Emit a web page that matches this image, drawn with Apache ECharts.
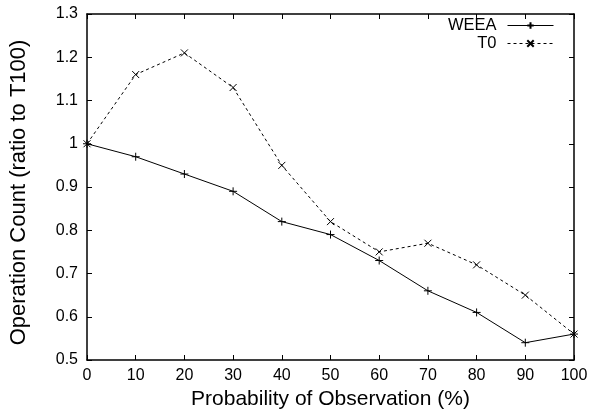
<!DOCTYPE html>
<html>
<head>
<meta charset="utf-8">
<script src="https://cdn.jsdelivr.net/npm/echarts@6/dist/echarts.min.js"></script>
<style>
  html, body { margin: 0; padding: 0; background: #fff; }
  #chart { width: 594px; height: 420px; }
</style>
</head>
<body>
<div id="chart"></div>
<script>
// Probability of observation (%)
const probs = [0, 10, 20, 30, 40, 50, 60, 70, 80, 90, 100];
// Operation count relative to T100
const weea = [1.00, 0.97, 0.93, 0.89, 0.82, 0.79, 0.73, 0.66, 0.61, 0.54, 0.56];
const t0   = [1.00, 1.16, 1.21, 1.13, 0.95, 0.82, 0.75, 0.77, 0.72, 0.65, 0.56];

const seriesNames = ['WEEA', 'T0'];

const FONT = '"Liberation Sans", Arial, Helvetica, sans-serif';
const PLUS = 'path://M0,5L10,5M5,0L5,10';
const CROSS = 'path://M0,0L10,10M10,0L0,10';

function pairs(ys) {
  return probs.map((x, i) => [x, ys[i]]);
}

const frameLine = { show: true, onZero: false, lineStyle: { color: '#000', width: 1.5 } };
const innerTick = { show: true, inside: true, length: 5, lineStyle: { color: '#000', width: 1 } };

const chart = echarts.init(document.getElementById('chart'), null, { renderer: 'canvas' });
chart.setOption({
  animation: false,
  backgroundColor: '#fff',
  textStyle: { fontFamily: FONT },
  grid: { left: 86, right: 20, top: 14, bottom: 60 },
  legend: {
    orient: 'vertical',
    right: 40,
    top: 17,
    padding: 0,
    align: 'right',
    itemWidth: 46,
    itemHeight: 8,
    itemGap: 1,
    data: seriesNames,
    lineStyle: { width: 1 },
    textStyle: { fontFamily: FONT, fontSize: 16.5, color: '#000', lineHeight: 17, padding: [0, 6, 0, 0] }
  },
  xAxis: [
    {
      type: 'value', position: 'bottom', min: 0, max: 100, interval: 10,
      axisLine: frameLine, axisTick: innerTick, splitLine: { show: false },
      axisLabel: { color: '#000', fontSize: 16, fontFamily: FONT, margin: 8 },
      name: 'Probability of Observation (%)', nameLocation: 'middle', nameGap: 28,
      nameTextStyle: { color: '#000', fontSize: 21, fontFamily: FONT }
    },
    {
      type: 'value', position: 'top', min: 0, max: 100, interval: 10,
      axisLine: frameLine, axisTick: innerTick, splitLine: { show: false },
      axisLabel: { show: false }
    }
  ],
  yAxis: [
    {
      type: 'value', position: 'left', min: 0.5, max: 1.3, interval: 0.1,
      axisLine: frameLine, axisTick: innerTick, splitLine: { show: false },
      axisLabel: { color: '#000', fontSize: 16, fontFamily: FONT, margin: 9 },
      name: 'Operation Count (ratio to T100)', nameLocation: 'middle', nameGap: 57,
      nameTextStyle: { color: '#000', fontSize: 22, fontFamily: FONT, padding: [0, 11, 0, 0] }
    },
    {
      type: 'value', position: 'right', min: 0.5, max: 1.3, interval: 0.1,
      axisLine: frameLine, axisTick: innerTick, splitLine: { show: false },
      axisLabel: { show: false }
    }
  ],
  series: [
    {
      name: seriesNames[0], type: 'line', data: pairs(weea),
      symbol: PLUS, symbolSize: 8,
      itemStyle: { color: '#000', borderColor: '#000', borderWidth: 1 },
      lineStyle: { color: '#000', width: 1, type: 'solid' }
    },
    {
      name: seriesNames[1], type: 'line', data: pairs(t0),
      symbol: CROSS, symbolSize: 7,
      itemStyle: { color: '#000', borderColor: '#000', borderWidth: 1 },
      lineStyle: { color: '#000', width: 1, type: [3, 3] }
    }
  ]
});
</script>
</body>
</html>
